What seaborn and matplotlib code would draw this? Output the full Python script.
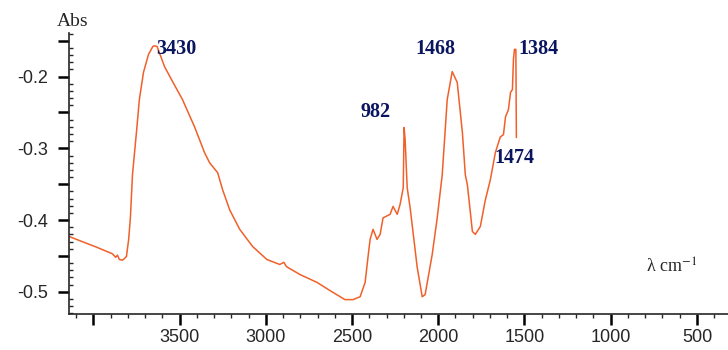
import matplotlib
matplotlib.use("Agg")
import matplotlib.pyplot as plt
import seaborn as sns
import pandas as pd
from matplotlib.ticker import MultipleLocator, FixedLocator, FuncFormatter

# spectrum (wavenumber cm-1, absorbance)
wavenumber = [4140, 3980, 3890, 3870, 3860, 3849, 3830, 3808, 3795, 3785, 3773,
              3750, 3733, 3709, 3680, 3655, 3645, 3630, 3587, 3547, 3483, 3413,
              3355, 3326, 3279, 3250, 3209, 3151, 3076, 2994, 2919, 2895, 2880,
              2802, 2703, 2610, 2541, 2494, 2453, 2424, 2407, 2395, 2378, 2355,
              2337, 2320, 2279, 2262, 2238, 2221, 2203, 2198, 2192, 2180, 2163,
              2122, 2093, 2076, 2035, 2006, 1977, 1948, 1919, 1890, 1860, 1843,
              1831, 1802, 1785, 1756, 1727, 1698, 1669, 1640, 1622, 1610, 1593,
              1581, 1570, 1564, 1558, 1550, 1547]
absorbance = [-0.423, -0.438, -0.447, -0.452, -0.449, -0.455, -0.456, -0.451,
              -0.427, -0.397, -0.337, -0.278, -0.232, -0.194, -0.169, -0.158,
              -0.157, -0.158, -0.186, -0.204, -0.232, -0.270, -0.306, -0.320,
              -0.334, -0.358, -0.386, -0.413, -0.437, -0.455, -0.462, -0.459,
              -0.465, -0.476, -0.487, -0.501, -0.511, -0.511, -0.507, -0.487,
              -0.451, -0.427, -0.413, -0.427, -0.420, -0.397, -0.392, -0.381,
              -0.392, -0.378, -0.355, -0.271, -0.288, -0.355, -0.383, -0.466,
              -0.507, -0.504, -0.448, -0.397, -0.337, -0.232, -0.193, -0.208,
              -0.278, -0.337, -0.351, -0.416, -0.420, -0.409, -0.372, -0.344,
              -0.306, -0.284, -0.281, -0.256, -0.246, -0.222, -0.218, -0.176,
              -0.162, -0.162, -0.285]

# peak labels: text, x, y
peak_labels = ["3430", "982", "1468", "1474", "1384"]
peak_x = [3634, 2448, 2134, 1674, 1535]
peak_y = [-0.162, -0.249, -0.162, -0.313, -0.162]

x_ticks = [4000, 3500, 3000, 2500, 2000, 1500, 1000, 500]
x_tick_labels = ["", "3500", "3000", "2500", "2000", "1500", "1000", "500"]

df = pd.DataFrame({"wavenumber": wavenumber, "absorbance": absorbance})

sns.set_style("ticks")
plt.rcParams["mathtext.fontset"] = "stix"

fig = plt.figure(figsize=(7.28, 3.5), dpi=100)
ax = fig.add_axes([0.095, 0.103, 0.905, 0.803])

sns.lineplot(data=df, x="wavenumber", y="absorbance", sort=False,
             estimator=None, color="#f0602a", linewidth=1.1, ax=ax)

ax.set_xlim(4140, 320)
ax.set_ylim(-0.531, -0.139)

ax.xaxis.set_major_locator(FixedLocator(x_ticks))
ax.set_xticklabels(x_tick_labels)
ax.xaxis.set_minor_locator(MultipleLocator(100))
ax.yaxis.set_major_locator(MultipleLocator(0.05))
ax.yaxis.set_minor_locator(MultipleLocator(0.01))
ax.yaxis.set_major_formatter(FuncFormatter(
    lambda v, p: f"{v:.1f}" if abs(round(v * 10) - v * 10) < 1e-6 else ""))

for lab in ax.get_xticklabels() + ax.get_yticklabels():
    lab.set_fontfamily("Liberation Sans")
    lab.set_fontsize(13)

ax.tick_params(axis="both", which="major", direction="out", length=8,
               width=1.8, color="black")
ax.tick_params(axis="x", which="major", pad=3)
ax.tick_params(axis="y", which="major", pad=7)
ax.tick_params(axis="x", which="minor", direction="out", length=3, width=1)
ax.tick_params(axis="y", which="minor", direction="in", length=3, width=1)

sns.despine(ax=ax)
ax.spines["left"].set_linewidth(1.2)
ax.spines["bottom"].set_linewidth(1.2)
ax.set_xlabel("")
ax.set_ylabel("")

for t, x, y in zip(peak_labels, peak_x, peak_y):
    ax.text(x, y, t, color="#0a1560", fontsize=14.5, fontweight="bold",
            family="Liberation Serif", ha="left", va="center")

fig.text(0.078, 0.94, "Abs", fontsize=14, family="Liberation Serif",
         ha="left", va="center")
ax.text(797, -0.466, r"λ cm$^{-1}$", fontsize=13, family="Liberation Serif",
        ha="left", va="center")

fig.savefig("out.png", dpi=100)
